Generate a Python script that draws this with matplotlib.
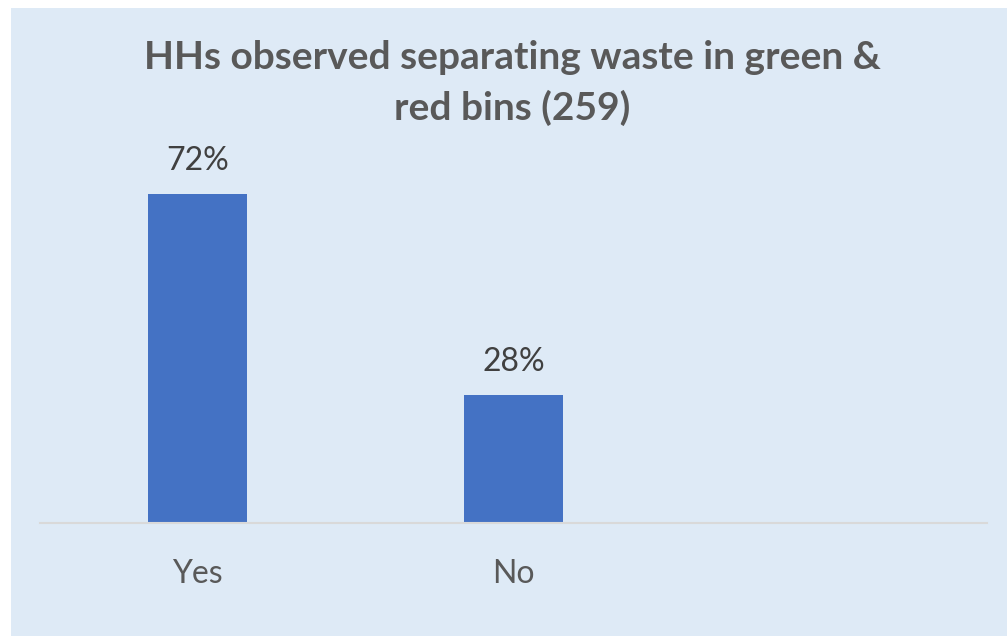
import matplotlib
matplotlib.use("Agg")
import matplotlib.pyplot as plt
from matplotlib.patches import Rectangle

categories = ["Yes", "No", ""]
values = [72, 28, None]
title = "HHs observed separating waste in green &\nred bins (259)"

bg = "#DEEAF6"
bar_color = "#4472C4"
text_gray = "#595959"
label_gray = "#404040"

plt.rcParams["font.family"] = ["Lato", "DejaVu Sans"]

fig = plt.figure(figsize=(10.07, 6.36), dpi=100)
fig.patch.set_facecolor("white")
# chart area panel
fig.patches.append(Rectangle((11 / 1007, 0), 1 - 11 / 1007, 1 - 8 / 636,
                             transform=fig.transFigure, facecolor=bg,
                             edgecolor="none", zorder=-1))

ax = fig.add_axes([40 / 1007, 113 / 636, 947 / 1007, 366 / 636])
ax.set_zorder(2)
ax.set_facecolor("none")

xs = list(range(len(categories)))
for x, v in zip(xs, values):
    if v is None:
        continue
    ax.bar(x, v, width=0.314, color=bar_color, zorder=2)
    ax.annotate(f"{v}%", (x, v), xytext=(0, 13), textcoords="offset points",
                ha="center", va="bottom", fontsize=23, color=label_gray)

ax.set_xlim(-0.5, len(categories) - 0.5)
ax.set_ylim(0, 80)
ax.set_yticks([])
ax.set_xticks(xs)
ax.set_xticklabels(categories, fontsize=23, color=text_gray)
ax.tick_params(axis="x", length=0, pad=26)
for side in ["top", "left", "right"]:
    ax.spines[side].set_visible(False)
ax.spines["bottom"].set_color("#D9D9D9")
ax.spines["bottom"].set_linewidth(1.5)

fig.text(512 / 1007, 1 - 83 / 636, title, ha="center", va="center",
         fontsize=28, fontweight="bold", color=text_gray, linespacing=1.5,
         zorder=3)

fig.savefig("out.png", dpi=100)
